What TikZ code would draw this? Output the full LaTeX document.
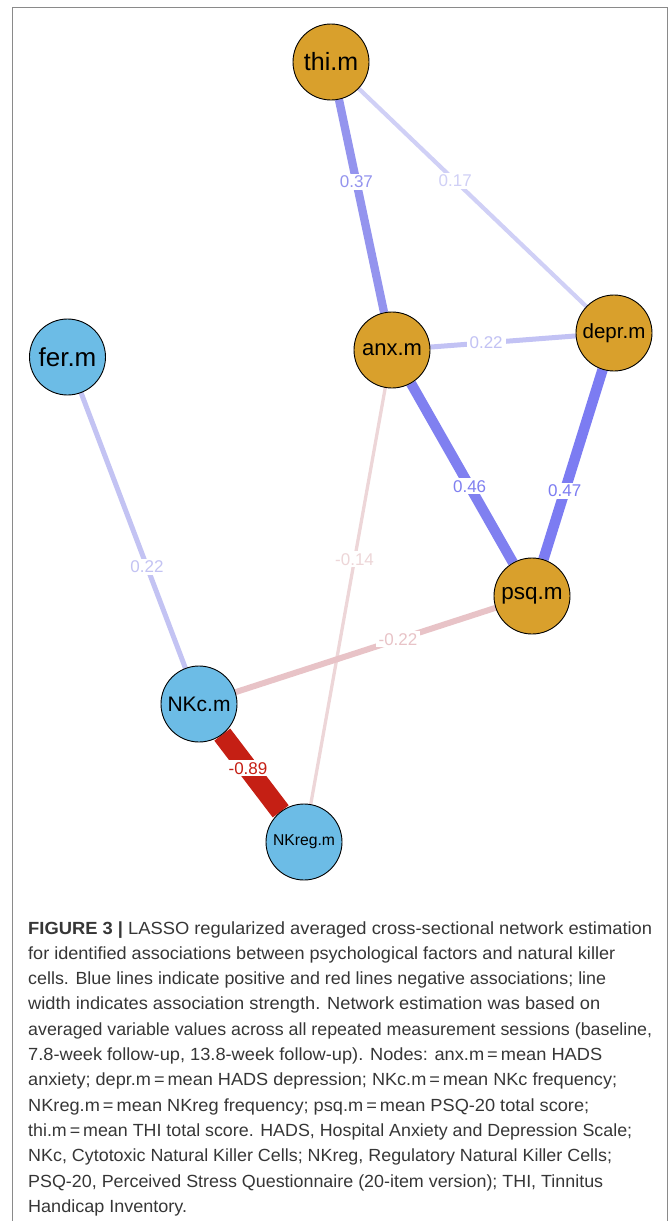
\documentclass[tikz,border=0pt]{standalone}
\usepackage{fontspec}
\usepackage{graphicx}
\setmainfont{Liberation Sans}
\usetikzlibrary{backgrounds}
\definecolor{orng}{HTML}{D9A02C}
\definecolor{sky}{HTML}{6CBCE6}
\definecolor{eA}{HTML}{9494EE}
\definecolor{eB}{HTML}{D0D0F6}
\definecolor{eC}{HTML}{C2C2F4}
\definecolor{eD}{HTML}{8080F0}
\definecolor{eE}{HTML}{7C7CF2}
\definecolor{eF}{HTML}{C3C3F3}
\definecolor{eG}{HTML}{C51F14}
\definecolor{eH}{HTML}{EDD6D8}
\definecolor{eI}{HTML}{E8C3C7}
\definecolor{captext}{HTML}{363636}
\definecolor{framec}{HTML}{8A8A8A}
\newcommand{\capfit}[2]{\resizebox{#1pt}{\height}{#2}}
\tikzset{
  vnode/.style={circle,draw=black,line width=0.9pt,minimum size=76pt,inner sep=0pt},
  psy/.style={vnode,fill=orng},
  nk/.style={vnode,fill=sky},
  edge/.style={line cap=butt},
  elab/.style={fill=white,inner xsep=3pt,inner ysep=2pt,font=\fontsize{17}{17}\selectfont},
  capline/.style={anchor=base west,inner sep=0pt,text=captext,font=\fontsize{17.6}{17.6}\selectfont}
}
\begin{document}
\begin{tikzpicture}[x=1pt,y=-1pt]
\useasboundingbox (0,0) rectangle (669,1221);
\draw[framec,line width=1pt] (12.7,1221) -- (12.7,7.5) -- (667,7.5) -- (667,1221);
% nodes
\node[psy,font=\fontsize{25}{25}\selectfont] (thi) at (331,62) {thi.m};
\node[psy,font=\fontsize{22}{22}\selectfont] (anx) at (392,350) {anx.m};
\node[psy,font=\fontsize{20.5}{20.5}\selectfont] (depr) at (614,333) {depr.m};
\node[nk,font=\fontsize{26}{26}\selectfont] (fer) at (67.5,357) {fer.m};
\node[psy,font=\fontsize{22.5}{22.5}\selectfont] (psq) at (532,596) {psq.m};
\node[nk,font=\fontsize{21}{21}\selectfont] (nkc) at (199,704) {NKc.m};
\node[nk,font=\fontsize{15.7}{15.7}\selectfont] (nkreg) at (304,842) {NKreg.m};
% edges
\begin{scope}[on background layer]
\draw[edge,eA,line width=8.3pt] (thi) -- node[elab,pos=0.387,text=eA]{0.37} (anx);
\draw[edge,eB,line width=4.2pt] (thi) -- node[elab,pos=0.424,text=eB]{0.17} (depr);
\draw[edge,eC,line width=5pt] (anx) -- node[elab,pos=0.384,text=eC]{0.22} (depr);
\draw[edge,eD,line width=10.3pt] (anx) -- node[elab,pos=0.575,text=eD]{0.46} (psq);
\draw[edge,eE,line width=10.5pt] (depr) -- node[elab,pos=0.64,text=eE]{0.47} (psq);
\draw[edge,eF,line width=5pt] (fer) -- node[elab,pos=0.632,text=eF]{0.22} (nkc);
\draw[edge,eH,line width=3.3pt] (anx) -- node[elab,pos=0.412,text=eH]{-0.14} (nkreg);
\draw[edge,eI,line width=6pt] (nkc) -- node[elab,pos=0.625,text=eI]{-0.22} (psq);
\draw[edge,eG,line width=20pt] (nkc) -- node[elab,pos=0.44,text=eG]{-0.89} (nkreg);
\end{scope}
% caption
\node[capline] (c1) at (28,934) {\capfit{624}{\textbf{FIGURE 3 |} LASSO regularized averaged cross-sectional network estimation}};
\node[capline] (c2) at (28,959.3) {\capfit{587}{for identified associations between psychological factors and natural killer}};
\node[capline] (c3) at (28,984.6) {\capfit{578}{cells. Blue lines indicate positive and red lines negative associations; line}};
\node[capline] (c4) at (28,1009.9) {\capfit{572}{width indicates association strength. Network estimation was based on}};
\node[capline] (c5) at (28,1035.2) {\capfit{624}{averaged variable values across all repeated measurement sessions (baseline,}};
\node[capline] (c6) at (28,1060.5) {\capfit{574}{7.8-week follow-up, 13.8-week follow-up). Nodes: anx.m\,=\,mean HADS}};
\node[capline] (c7) at (28,1085.8) {\capfit{589}{anxiety; depr.m\,=\,mean HADS depression; NKc.m\,=\,mean NKc frequency;}};
\node[capline] (c8) at (28,1111.1) {\capfit{561}{NKreg.m\,=\,mean NKreg frequency; psq.m\,=\,mean PSQ-20 total score;}};
\node[capline] (c9) at (28,1136.4) {\capfit{604}{thi.m\,=\,mean THI total score. HADS, Hospital Anxiety and Depression Scale;}};
\node[capline] (c10) at (28,1161.7) {\capfit{584}{NKc, Cytotoxic Natural Killer Cells; NKreg, Regulatory Natural Killer Cells;}};
\node[capline] (c11) at (28,1187) {\capfit{575}{PSQ-20, Perceived Stress Questionnaire (20-item version); THI, Tinnitus}};
\node[capline] (c12) at (28,1212.3) {\capfit{159}{Handicap Inventory.}};
\end{tikzpicture}
\end{document}
